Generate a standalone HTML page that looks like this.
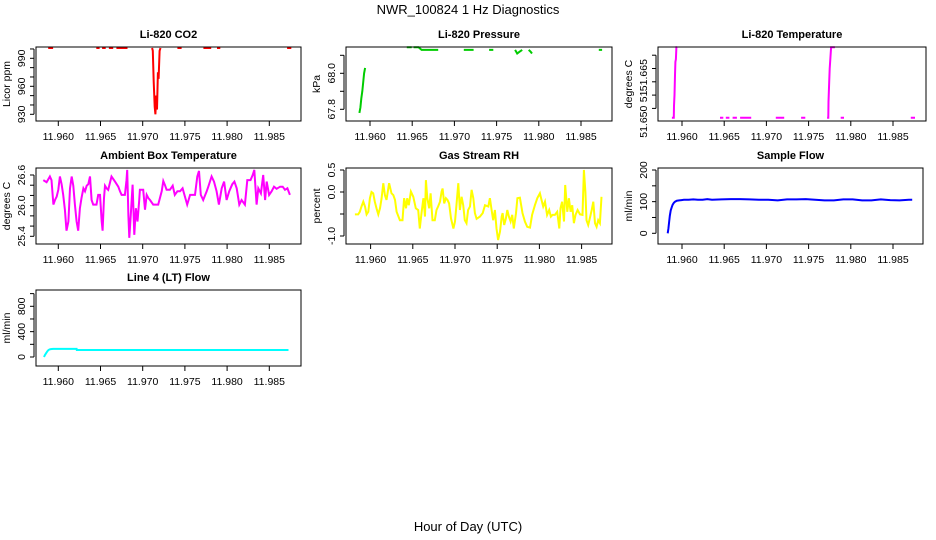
<!DOCTYPE html>
<html><head><meta charset="utf-8"><style>
body{margin:0;background:#fff}
svg{display:block;font-family:"Liberation Sans",sans-serif}
</style></head><body>
<svg id="fig" width="936" height="540" viewBox="0 0 936 540">
<text x="468" y="14" text-anchor="middle" font-size="13">NWR_100824  1 Hz Diagnostics</text>
<text x="468" y="531" text-anchor="middle" font-size="13">Hour of Day (UTC)</text>
</svg>
<script>
// time in seconds after 11.958 h (1 Hz data)
const xTicks = [11.960, 11.965, 11.970, 11.975, 11.980, 11.985];
const xTickLabels = ["11.960","11.965","11.970","11.975","11.980","11.985"];

const co2Sec = [2.9,5.0,null,23.4,24.8,null,25.9,27.4,null,28.8,30.6,null,32.0,36.7,null,47.2,47.5,47.9,48.3,48.6,49.0,49.3,49.7,50.0,50.4,50.8,null,58.0,59.8,null,69.1,72.4,null,74.9,76.3,null,104.8,106.6];
const co2Val = [1001,1001,null,1001,1001,null,1001,1001,null,1001,1001,null,1001,1001,null,1001,998,965,938,930,950,935,975,968,998,1001,null,1001,1001,null,1001,1001,null,1001,1001,null,1001,1001];

const presSec = [2.7,3.1,3.5,3.9,4.3,4.7,5.1,null,22.9,25.0,null,25.8,27.9,29.2,31.0,36.3,null,47.2,51.4,null,58.0,59.8,null,69.1,70.0,71.0,72.1,null,74.9,75.7,76.3,null,104.8,106.2];
const presVal = [67.78,67.81,67.86,67.90,67.95,68.00,68.03,null,68.145,68.145,null,68.145,68.145,68.13,68.13,68.13,null,68.13,68.13,null,68.13,68.13,null,68.13,68.11,68.12,68.13,null,68.13,68.12,68.11,null,68.13,68.13];

const tempSec = [2.9,3.7,3.8,4.0,4.2,4.4,4.6,4.8,5.1,null,23.4,24.8,null,25.9,27.4,null,28.8,30.6,null,32.0,36.7,null,47.2,50.8,null,58.0,59.8,null,69.1,69.6,69.7,70.0,70.2,70.5,70.8,72.4,null,74.9,76.3,null,104.8,106.6];
const tempVal = [51.6503,51.6503,51.6512,51.6520,51.6535,51.6545,51.6547,51.6556,51.6556,null,51.6503,51.6503,null,51.6503,51.6503,null,51.6503,51.6503,null,51.6503,51.6503,null,51.6503,51.6503,null,51.6503,51.6503,null,51.6503,51.6503,51.6515,51.6530,51.6540,51.6548,51.6556,51.6556,null,51.6503,51.6503,null,51.6503,51.6503];

const ambSec = [0.8,2.2,3.6,4.3,5.1,5.8,6.5,7.2,7.9,8.6,9.3,10,10.7,11.5,12.2,12.9,13.6,14.3,15,15.7,16.4,17.1,17.9,18.6,19.3,20,20.7,21.4,22.1,22.8,23.5,24.2,25,25.7,26.1,26.7,27.1,27.8,28.5,29.9,31.4,32.8,33.5,34.2,35.6,36.3,36.6,37.1,37.5,38.2,38.9,39.6,40.3,41,41.7,42,43.4,44.2,44.9,45.6,46.3,47.7,49.8,51.3,52,52.7,53.4,54.8,56,56.9,58,59.1,60.2,61.2,62.2,63.4,65.5,66.5,67.2,68,69,70.5,71.2,72.6,73.6,74.7,75.7,76.9,77.9,79,80.1,81.4,82.3,83.3,84.4,85.4,86.8,87.8,89.2,90.1,90.8,91.8,92.5,93.6,94.6,95.4,96.1,97.1,98.2,99.2,100.3,101.8,102.9,103.9,104.9,106];
const ambVal = [26.50,26.46,26.57,26.50,26.02,26.11,26.18,26.31,26.57,26.42,26.21,25.92,25.51,25.69,26.34,26.57,26.39,26.02,25.69,25.51,25.95,26.15,26.34,26.28,26.39,26.42,26.57,26.11,26.02,26.02,26.02,26.21,26.21,25.69,25.51,26.15,26.39,26.34,26.31,26.57,26.47,26.37,26.28,26.21,26.21,26.50,26.70,25.80,25.37,25.89,26.41,25.43,25.95,25.69,26.10,26.31,26.31,25.92,26.21,26.15,26.11,26.02,26.02,26.28,26.48,26.40,26.31,26.31,26.39,26.21,26.28,26.28,26.34,26.18,26.02,26.21,26.21,26.57,26.68,26.21,26.11,26.28,26.37,26.57,26.47,26.28,26.02,26.34,26.47,26.11,26.28,26.42,26.47,26.34,26.02,26.11,26.02,26.50,26.50,26.60,26.70,26.02,26.34,26.24,26.60,26.11,26.47,26.21,26.28,26.37,26.33,26.37,26.37,26.31,26.34,26.21];

const rhSec = [0.5,1.9,2.6,3.3,4.1,4.8,5.5,6.2,6.9,7.6,8.3,9.0,9.7,10.5,11.2,11.9,12.6,13.3,14.0,15.1,16.1,16.9,17.6,18.3,19.7,20.8,21.5,22.3,22.8,23.5,24.4,25.4,26.5,27.5,28.2,28.9,29.7,30.4,30.8,31.4,32.2,32.8,33.6,34.6,35.3,36.0,36.8,37.5,37.9,38.6,39.3,40.0,40.7,41.5,42.5,43.2,43.9,44.6,45.3,46.0,46.7,47.4,48.1,48.8,49.6,50.3,51.0,51.7,52.4,53.8,55.0,56.0,57.4,58.1,58.8,59.5,60.2,60.9,61.6,62.4,63.1,63.5,64.2,64.9,65.5,66.2,66.9,67.6,68.3,69.2,69.8,70.9,72.0,73.0,74.0,75.2,76.1,77.3,78.3,79.4,80.1,80.8,81.6,82.5,83.4,84.1,84.8,85.8,86.8,87.7,88.2,88.9,89.7,90.2,91.1,91.8,92.5,93.2,93.9,94.6,95.5,96.5,97.6,98.2,98.8,99.3,100.0,100.7,101.5,102.2,102.9,103.6,104.3,105.0,105.7];
const rhVal = [-0.51,-0.51,-0.45,-0.33,-0.22,-0.33,-0.51,-0.45,-0.14,0.0,-0.03,-0.22,-0.37,-0.51,-0.37,-0.14,0.20,-0.07,-0.18,0.20,-0.03,-0.07,-0.18,-0.45,-0.64,-0.64,-0.14,-0.37,-0.14,-0.30,0.01,-0.11,-0.37,-0.41,-0.83,-0.48,-0.14,-0.56,0.27,-0.14,-0.37,-0.03,-0.64,-0.64,-0.41,-0.33,-0.22,0.01,0.08,-0.26,-0.14,-0.18,-0.26,-0.60,-0.83,-0.67,-0.26,0.20,-0.41,-0.11,-0.30,-0.64,-0.71,-0.41,-0.33,0.05,-0.14,-0.48,-0.61,-0.56,-0.48,-0.30,-0.33,-0.14,-0.41,-0.64,-0.41,-0.83,-1.09,-0.90,-0.56,-0.48,-0.75,-0.60,-0.41,-0.56,-0.67,-0.52,-0.83,-0.48,-0.14,-0.13,-0.48,-0.67,-0.79,-0.81,-0.52,-0.30,-0.14,-0.03,-0.18,-0.33,-0.22,-0.52,-0.41,-0.56,-0.52,-0.52,-0.45,-0.83,-0.37,-0.22,-0.67,0.16,-0.45,-0.14,-0.45,-0.30,-0.71,-0.52,-0.41,-0.51,-0.52,0.50,0.0,-0.64,-0.75,-0.60,-0.41,-0.22,-0.71,-0.79,-0.64,-0.71,-0.11];

const flowSec = [1.1,1.4,1.7,2.0,2.4,2.8,3.2,3.7,4.2,5,6,7,8,10,12,14,16,18,20,24,28,32,36,40,44,48,52,56,60,64,68,72,76,80,84,88,92,96,100,104,105.4];
const flowVal = [0,15,35,55,72,82,90,96,100,103,104,105,106,106,107,106,106,108,106,107,108,108,107,106,106,104,107,107,108,106,104,104,107,107,104,104,107,105,104,106,106];

const ltSec = [1.1,1.5,2.0,2.5,3.0,3.5,4.0,5,8,12,15.0,15.1,40,70,105.4];
const ltVal = [0,30,60,90,110,120,125,128,128,128,128,110,110,110,110];

const panels = [
 {name:"co2",title:"Li-820 CO2",ytitle:"Licor ppm",L:36,R:301,T:47,B:121,x0:58.3,x1:269.3,ya:930,yaP:114.3,yb:990,ybP:58.3,ticks:[930,940,950,960,970,980,990,1000],labels:[[930,"930"],[960,"960"],[990,"990"]],sec:co2Sec,val:co2Val,color:"#ff0000"},
 {name:"pressure",title:"Li-820 Pressure",ytitle:"kPa",L:346,R:612,T:47,B:121,x0:370,x1:581,ya:67.8,yaP:109.3,yb:68.0,ybP:73.3,ticks:[67.8,67.9,68.0,68.1],labels:[[67.8,"67.8"],[68.0,"68.0"]],sec:presSec,val:presVal,color:"#00cc00"},
 {name:"temperature",title:"Li-820 Temperature",ytitle:"degrees C",L:658,R:926,T:47,B:121,x0:682,x1:893,ya:51.650,yaP:121.7,yb:51.655,ybP:55.2,ticks:[51.651,51.652,51.653,51.654,51.655],labels:[[51.650,"51.650"],[51.6519,"51"],[51.6535,"51.665"]],sec:tempSec,val:tempVal,color:"#ff00ff"},
 {name:"ambient",title:"Ambient Box Temperature",ytitle:"degrees C",L:36,R:301,T:168,B:244,x0:58.3,x1:269.3,ya:25.4,yaP:236.3,yb:26.6,ybP:175,ticks:[25.4,25.6,25.8,26.0,26.2,26.4,26.6],labels:[[25.4,"25.4"],[26.0,"26.0"],[26.6,"26.6"]],sec:ambSec,val:ambVal,color:"#ff00ff"},
 {name:"rh",title:"Gas Stream RH",ytitle:"percent",L:346,R:612,T:168,B:244,x0:370.6,x1:581.6,ya:-1.0,yaP:236,yb:0.5,ybP:170,ticks:[-1.0,-0.5,0.0,0.5],labels:[[-1.0,"-1.0"],[0.0,"0.0"],[0.5,"0.5"]],sec:rhSec,val:rhVal,color:"#ffff00"},
 {name:"sample-flow",title:"Sample Flow",ytitle:"ml/min",L:658,R:923,T:168,B:244,x0:682,x1:893,ya:0,yaP:233.3,yb:200,ybP:170,ticks:[0,50,100,150,200],labels:[[0,"0"],[100,"100"],[200,"200"]],sec:flowSec,val:flowVal,color:"#0000ff"},
 {name:"line4-flow",title:"Line 4 (LT) Flow",ytitle:"ml/min",L:36,R:301,T:290,B:366,x0:58.3,x1:269.3,ya:0,yaP:357,yb:800,ybP:306.3,ticks:[0,200,400,600,800,1000],labels:[[0,"0"],[400,"400"],[800,"800"]],sec:ltSec,val:ltVal,color:"#00ffff"}
];

const NS="http://www.w3.org/2000/svg";
const svg=document.getElementById('fig');
function mk(tag,attrs,parent){const e=document.createElementNS(NS,tag);for(const k in attrs)e.setAttribute(k,attrs[k]);(parent||svg).appendChild(e);return e;}

panels.forEach(p=>{
  const g=mk('g',{});
  
  
  const xs=h=>p.x0+(h-xTicks[0])/(xTicks[5]-xTicks[0])*(p.x1-p.x0);
  const xsSec=s=>xs(11.958+s/3600);
  const ys=v=>p.yaP+(v-p.ya)/(p.yb-p.ya)*(p.ybP-p.yaP);
  const t=mk('text',{x:(p.L+p.R)/2,y:p.T-9,'text-anchor':'middle','font-size':11,'font-weight':'bold'},g);
  t.textContent=p.title;
  
  
  let d='',pen=false;
  for(let i=0;i<p.sec.length;i++){
    if(p.sec[i]===null||p.val[i]===null){pen=false;continue;}
    const X=xsSec(p.sec[i]).toFixed(1),Y=ys(p.val[i]).toFixed(1);
    d+=(pen?'L':'M')+X+' '+Y+' ';pen=true;
  }
  const ln=mk('path',{d:d,fill:'none',stroke:p.color,'stroke-width':2,'stroke-linejoin':'miter'},g);
  
  
  const box=mk('rect',{x:p.L,y:p.T,width:p.R-p.L,height:p.B-p.T,fill:'none',stroke:'#000','stroke-width':1},g);
  
  
  const xa=mk('g',{},g);
  
  
  xTicks.forEach((h,i)=>{
    const X=xs(h);
    mk('line',{x1:X,x2:X,y1:p.B,y2:p.B+5,stroke:'#000'},xa);
    const tl=mk('text',{x:X,y:p.B+19,'text-anchor':'middle','font-size':10.5},xa);
    tl.textContent=xTickLabels[i];
  });
  const ya=mk('g',{},g);
  
  
  const tp=p.ticks.map(ys);
  mk('line',{x1:p.L-2,x2:p.L-2,y1:Math.min(...tp),y2:Math.max(...tp),stroke:'#000'},ya);
  tp.forEach(Y=>mk('line',{x1:p.L-6,x2:p.L-2,y1:Y,y2:Y,stroke:'#000'},ya));
  p.labels.forEach(([v,s])=>{
    const Y=ys(v),X=p.L-11;
    const tl=mk('text',{x:X,y:Y,'text-anchor':'middle','font-size':10.5,transform:`rotate(-90 ${X} ${Y})`},ya);
    tl.textContent=s;
  });
  const X=p.L-26,Y=(p.T+p.B)/2;
  const yt=mk('text',{x:X,y:Y,'text-anchor':'middle','font-size':10.5,transform:`rotate(-90 ${X} ${Y})`},g);
  yt.textContent=p.ytitle;
  
  
});
</script>
</body></html>
